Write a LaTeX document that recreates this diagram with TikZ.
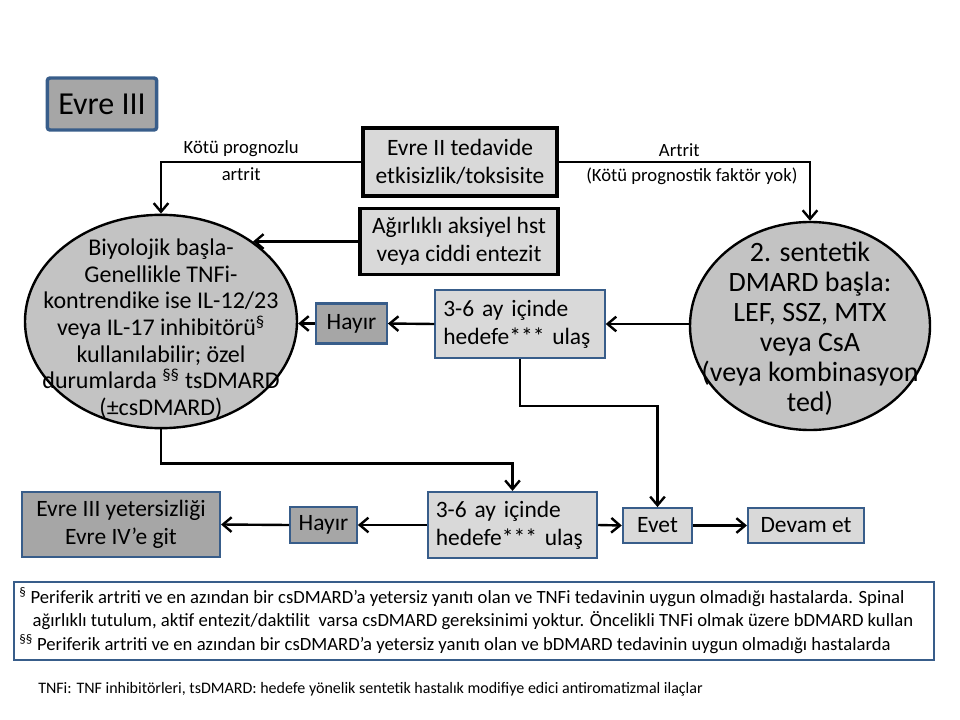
\documentclass[tikz,border=0pt]{standalone}
\usepackage{fontspec}
\setmainfont{Carlito}
\usetikzlibrary{shapes.geometric,arrows.meta}

\definecolor{boxblue}{HTML}{385D8A}
\definecolor{lightfill}{HTML}{D9D9D9}
\definecolor{midfill}{HTML}{A6A6A6}
\definecolor{ovalfill}{HTML}{C3C3C3}

\tikzset{
    boxtext/.style={font=\fontsize{17.6}{21}\selectfont},
    blackbox/.style={boxtext, draw=black, line width=2.4pt, fill=lightfill, align=center, inner sep=0pt},
    bluebox/.style={boxtext, draw=boxblue, line width=1.6pt, fill=lightfill, align=center, inner sep=0pt},
    goalbox/.style={bluebox, align=left, text width=115pt, inner xsep=6pt, minimum width=127pt},
    oval/.style={ellipse, draw=black, line width=1.8pt, fill=ovalfill, inner sep=0pt},
    ovaltext/.style={align=center, font=\fontsize{18}{20}\selectfont},
    flow/.style={line width=1.8pt, -{Straight Barb[length=6.5pt,width=11pt]}},
    small/.style={font=\fontsize{14}{17}\selectfont}
}

\begin{document}
\begin{tikzpicture}[x=0.75pt,y=-0.75pt]

    \useasboundingbox (0,0) rectangle (960,720);

    % Title
    \node[bluebox, fill=midfill, line width=2.6pt, rounded corners=2pt,
          minimum width=82pt, minimum height=39pt,
          font=\fontsize{24}{28}\selectfont] (stage) at (102,104) {Evre III};

    % Top boxes
    \node[blackbox, minimum width=145.5pt, minimum height=51pt] (fail) at (460,162)
        {Evre II tedavide\\etkisizlik/toksisite};
    \node[blackbox, minimum width=148.5pt, minimum height=50pt] (axial) at (459,241.5)
        {Ağırlıklı aksiyel hst\\veya ciddi entezit};

    % Ellipses
    \node[oval, minimum width=204pt, minimum height=160pt,
          label={[ovaltext, yshift=-5.5pt]center:{Biyolojik başla-\\Genellikle TNFi-\\kontrendike ise IL-12/23\\veya IL-17 inhibitörü\textsuperscript{§}\\kullanılabilir; özel\\durumlarda \textsuperscript{§§} tsDMARD\\(±csDMARD)}}]
        (bio) at (161,321.5) {};
    \node[oval, minimum width=180pt, minimum height=156pt,
          label={[ovaltext, yshift=-2pt, font=\fontsize{21}{22.5}\selectfont]center:{2. sentetik\\DMARD başla:\\LEF, SSZ, MTX\\veya CsA\\(veya kombinasyon\\ted)}}]
        (dmard) at (810,326) {};

    % Middle row
    \node[bluebox, fill=midfill, minimum width=53pt, minimum height=30pt] (no1) at (351.5,323.5) {Hayır};
    \node[goalbox, minimum height=51pt] (goal1) at (520,324) {3-6 ay içinde\\hedefe*** ulaş};

    % Bottom row
    \node[bluebox, fill=midfill, minimum width=148.5pt, minimum height=49pt] (stage4) at (121,524.5)
        {Evre III yetersizliği\\Evre IV’e git};
    \node[bluebox, fill=midfill, minimum width=50pt, minimum height=27pt] (no2) at (323.5,525) {Hayır};
    \node[goalbox, minimum height=49.5pt] (goal2) at (512.5,525) {3-6 ay içinde\\hedefe*** ulaş};
    \node[bluebox, minimum width=52pt, minimum height=26pt] (yes) at (657.5,525.5) {Evet};
    \node[bluebox, minimum width=87pt, minimum height=26pt] (cont) at (806,525.5) {Devam et};

    % Arrows
    \draw[flow] (fail.west) -| node[pos=0.3, above, small] {Kötü prognozlu}
        node[pos=0.3, below, small] {artrit} (bio.north);
    \draw[flow] (fail.east) -| node[pos=0.24, above, small] {Artrit}
        node[pos=0.265, below, small] {(Kötü prognostik faktör yok)} (dmard.north);
    \draw[flow] (axial.west) -- (axial.west -| bio.41);
    \draw[flow] (dmard.west |- goal1.east) -- (goal1.east);
    \draw[flow] (goal1.west) -- (no1.east);
    \draw[flow] (no1.west) -- (no1.west -| bio.east);
    \draw[flow] (goal1.south) -- ++(0,47) -| (yes.north);
    \draw[flow] (bio.south) -- ++(0,34) -| (goal2.north);
    \draw[flow] (goal2.west) -- (no2.east);
    \draw[flow] (no2.west) -- (stage4.east);
    \draw[flow] (goal2.east) -- (yes.west);
    \draw[flow] (yes.east) -- (cont.west);

    % Footnotes
    \node[draw=boxblue, line width=0.8pt, minimum width=690pt, minimum height=58.5pt] (notes) at (474,621) {};
    \node[anchor=west, align=left, inner sep=0pt, font=\fontsize{14}{17.6}\selectfont] (notetext) at (19,620.5)
        {\textsuperscript{§} Periferik artriti ve en azından bir csDMARD’a yetersiz yanıtı olan ve TNFi tedavinin uygun olmadığı hastalarda. Spinal\\
         \hspace*{10pt}ağırlıklı tutulum, aktif entezit/daktilit\ \ varsa csDMARD gereksinimi yoktur. Öncelikli TNFi olmak üzere bDMARD kullan\\
         \textsuperscript{§§} Periferik artriti ve en azından bir csDMARD’a yetersiz yanıtı olan ve bDMARD tedavinin uygun olmadığı hastalarda};

    % Abbreviations
    \node[anchor=west, inner sep=0pt, font=\fontsize{12}{14}\selectfont] (abbr) at (38,689)
        {TNFi: TNF inhibitörleri, tsDMARD: hedefe yönelik sentetik hastalık modifiye edici antiromatizmal ilaçlar};

\end{tikzpicture}
\end{document}
